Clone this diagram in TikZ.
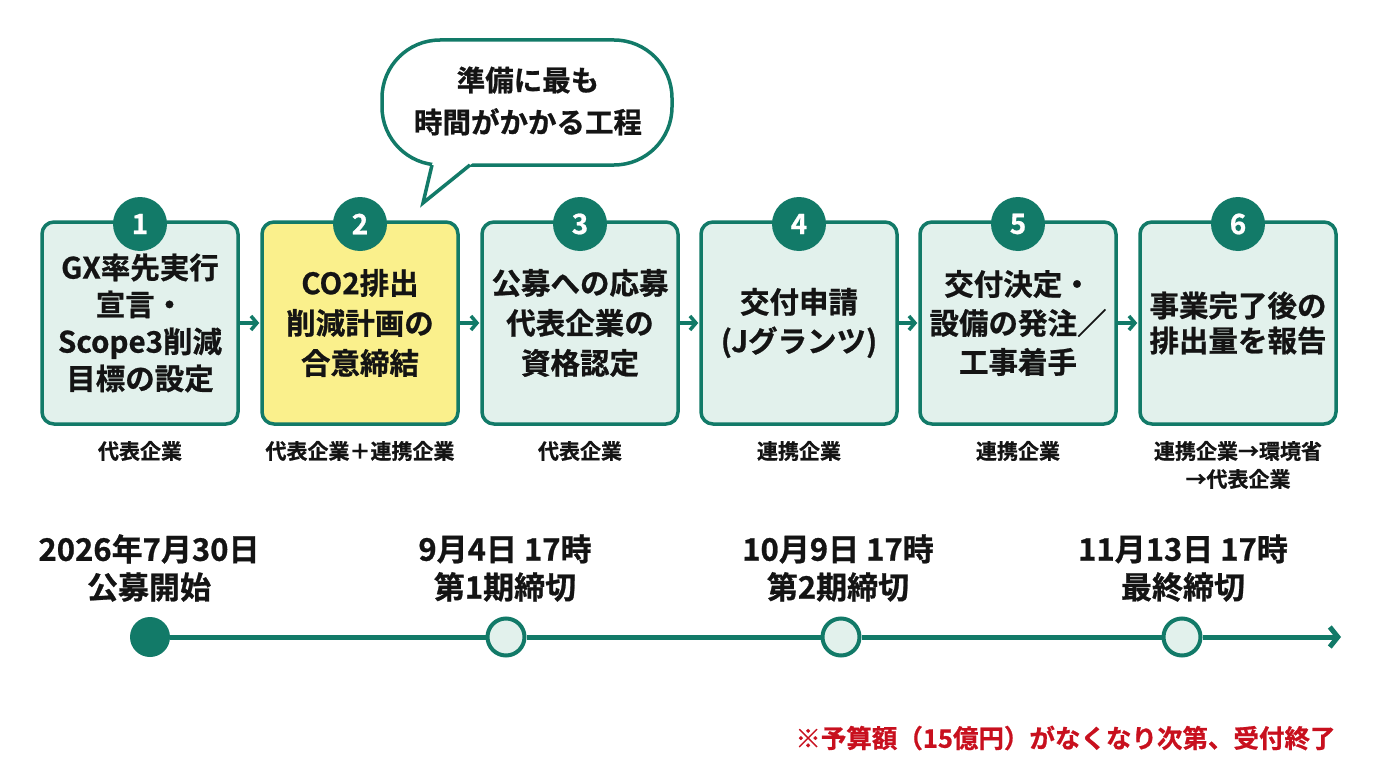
\documentclass[tikz,border=0pt]{standalone}
\usepackage{fontspec}
\setmainfont{Noto Sans CJK JP}[BoldFont={Noto Sans CJK JP Bold},BoldFeatures={FakeBold=0.8}]
\usetikzlibrary{arrows.meta}
\definecolor{gx}{RGB}{18,122,104}
\definecolor{lightg}{RGB}{226,241,236}
\definecolor{yel}{RGB}{250,240,140}
\definecolor{ink}{RGB}{20,20,20}
\definecolor{note}{RGB}{200,16,30}
\tikzset{
  stepbox/.style={draw=gx, line width=3.5pt, fill=lightg, rounded corners=12pt,
    minimum width=196pt, minimum height=202pt, inner sep=0pt, align=center,
    text=ink, font=\fontsize{29.5}{37}\selectfont\bfseries},
  numcirc/.style={circle, fill=gx, minimum size=54pt, inner sep=0pt,
    text=white, font=\fontsize{28}{30}\selectfont\bfseries},
  sublabel/.style={align=center, text=ink, font=\fontsize{21}{28}\selectfont\bfseries},
  datelabel/.style={align=center, text=ink, font=\fontsize{31}{38}\selectfont\bfseries},
  flowarrow/.style={draw=gx, line width=3.5pt, -{Straight Barb[length=6pt,width=14pt]}, shorten >=1pt},
  tline/.style={draw=gx, line width=5pt},
  tdot/.style={circle, fill=gx, minimum size=40pt, inner sep=0pt},
  topen/.style={circle, draw=gx, line width=4pt, fill=lightg, minimum size=37pt, inner sep=0pt},
}
\begin{document}
\begin{tikzpicture}[x=1pt,y=-1pt]
\useasboundingbox[fill=white] (0,0) rectangle (1376,768);

% speech bubble
\draw[draw=gx, line width=3.5pt, fill=white, rounded corners=58pt] (382,40) rectangle (672,165);
\fill[white] (433.2,160) -- (423,203) -- (476.2,160) -- cycle;
\draw[draw=gx, line width=3.5pt, line join=miter] (432,165) -- (423,203) -- (470,165);
\node[align=center, text=ink, font=\fontsize{28.5}{42}\selectfont\bfseries] (bubble) at (528,101) {準備に最も\\時間がかかる工程};

% step boxes
\node[stepbox] (b1) at (140,323) {GX率先実行\\宣言・\\Scope3削減\\目標の設定};
\node[stepbox, fill=yel, font=\fontsize{29.5}{40}\selectfont\bfseries] (b2) at (360,323) {CO2排出\\削減計画の\\合意締結};
\node[stepbox, font=\fontsize{29.5}{40}\selectfont\bfseries] (b3) at (580,323) {公募への応募\\代表企業の\\資格認定};
\node[stepbox, font=\fontsize{29.5}{39}\selectfont\bfseries] (b4) at (799,323) {交付申請\\(Jグランツ)};
\node[stepbox, font=\fontsize{29.5}{39}\selectfont\bfseries] (b5) at (1018,323) {交付決定・\\設備の発注／\\工事着手};
\node[stepbox, font=\fontsize{29.5}{35}\selectfont\bfseries] (b6) at (1238,323) {事業完了後の\\排出量を報告};

\foreach \i/\x in {1/140,2/360,3/580,4/799,5/1018,6/1238}{
  \node[numcirc] (c\i) at (\x,224) {\i};
}

\draw[flowarrow] (b1) -- (b2);
\draw[flowarrow] (b2) -- (b3);
\draw[flowarrow] (b3) -- (b4);
\draw[flowarrow] (b4) -- (b5);
\draw[flowarrow] (b5) -- (b6);

% sub labels
\node[sublabel] (s1) at (140,451) {代表企業};
\node[sublabel] (s2) at (360,451) {代表企業＋連携企業};
\node[sublabel] (s3) at (580,451) {代表企業};
\node[sublabel] (s4) at (799,451) {連携企業};
\node[sublabel] (s5) at (1018,451) {連携企業};
\node[sublabel] (s6) at (1238,465) {連携企業→環境省\\→代表企業};

% timeline
\node[tdot] (t0) at (150,637) {};
\node[topen] (t1) at (506,637) {};
\node[topen] (t2) at (841,637) {};
\node[topen] (t3) at (1182,637) {};
\coordinate (tend) at (1341,637);
\draw[tline] (t0) -- (t1);
\draw[tline] (t1) -- (t2);
\draw[tline] (t2) -- (t3);
\draw[tline, -{Straight Barb[length=8pt,width=20pt]}] (t3) -- (tend);

\node[datelabel] (d0) at (149,568) {2026年7月30日\\公募開始};
\node[datelabel] (d1) at (505,568) {9月4日 17時\\第1期締切};
\node[datelabel] (d2) at (838,568) {10月9日 17時\\第2期締切};
\node[datelabel] (d3) at (1183,568) {11月13日 17時\\最終締切};

% note
\node[anchor=east, text=note, font=\fontsize{25.5}{28}\selectfont\bfseries] (note) at (1339,738) {※予算額（15億円）がなくなり次第、受付終了};
\end{tikzpicture}
\end{document}
